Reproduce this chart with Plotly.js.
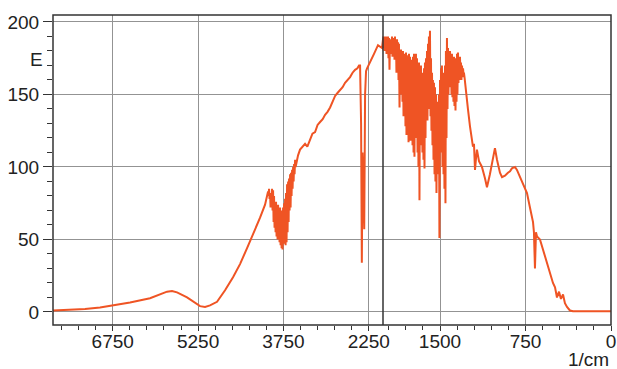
<!DOCTYPE html>
<html><head><meta charset="utf-8">
<script src="https://cdn.plot.ly/plotly-3.0.1.min.js"></script>
<style>body{margin:0;background:#fff}#chart{width:617px;height:369px}</style>
</head><body><div id="chart"></div>
<script>
// Wavenumber (1/cm) and single-beam energy E
const wavenumber = [7800,7501,7237,6974,6746,6446,6095,5919,5796,5708,5620,5444,5304,5216,5128,5040,4917,4776,4636,4513,4389,4266,4161,4073,
  4020,4011,4003,3994,3985,3976,3967,3958,3950,3941,3932,3923,3915,3906,3897,3888,3880,3871,3862,3853,3844,3835,3827,3818,3809,3800,3791,3782,3774,3765,3756,3747,3739,3730,3721,3712,3704,3695,3686,3677,3668,3659,3651,3642,3633,3624,3616,3607,3598,3589,3580,3571,3563,3554,3545,3536,
  3493,3458,3415,3370,3330,3282,3240,3194,3150,3106,3060,3018,2975,2930,2890,2842,2800,2754,2710,2667,2620,2579,2535,2491,2450,2421,2403,2385,2372,2360,2345,2330,2315,2298,2280,2227,2158,2088,2018,
  2000,1996,1991,1987,1982,1978,1974,1969,1965,1960,1956,1952,1947,1943,1939,1934,1930,1925,1921,1917,1912,1908,1903,1899,1895,1890,1886,1882,1877,1873,1868,1864,1860,1855,1851,1846,1842,1838,1833,1829,1825,1820,1816,1811,1807,1803,1798,1794,1790,1785,1781,1776,1772,1768,1763,1759,1754,1750,1746,1741,1737,1732,1728,1724,1719,1715,1711,1706,1702,1697,1693,1689,1684,1680,1676,1671,1667,1662,1658,1654,1649,1645,1640,1636,1632,1627,1623,1618,1614,1610,1605,1601,1597,1592,1588,1583,1579,1575,1570,1566,1562,1557,1553,1548,1544,1540,1535,1531,1526,1522,1518,1513,1509,1505,1500,1496,1491,1487,1483,1478,1474,1469,1465,1461,1456,1452,1448,1443,1439,1434,1430,1426,1421,1417,1412,1408,1404,1399,1395,1391,1386,1382,1377,1373,1369,1364,1360,1355,1351,1347,1342,1338,1334,1329,1325,1320,1316,1312,1307,1303,1298,1294,1290,1285,
  1272,1255,1237,1219,1211,1202,1193,1184,1176,1158,1132,1105,1088,1062,1035,1018,1000,974,956,930,904,886,869,842,825,798,772,737,711,684,676,667,658,649,623,597,570,535,509,491,474,456,439,421,404,386,360,333,272,96,0];
const energy = [1,1.3,2,3,4.5,6.5,9.5,12,14,14.5,13.5,10,6,4,3.5,4.5,7,15,24,33,44,55,65,74,
  83,80,85,78,82,72,80,75,85,70,84,62,80,58,75,55,76,52,72,50,74,55,70,48,72,46,70,44,68,43,72,47,75,50,78,46,82,48,88,55,90,62,92,70,95,72,96,80,98,85,100,90,102,95,105,100,
  108,112,114,116,114,119,123,124,129,131,133,136,138,141,145,149,151,153,155,158,160,162,165,167,168,170,170,130,34,110,90,57,150,166,168,172,178,184,182,
  188,182,190,180,189,183,190,178,188,181,190,175,189,167,187,178,188,182,190,176,189,180,188,174,190,178,187,165,188,175,186,160,185,141,180,150,181,160,178,145,180,135,178,140,176,128,179,122,177,130,175,117,178,120,176,118,174,125,172,115,176,110,178,107,174,130,178,120,175,110,170,100,172,77,168,120,170,115,165,110,160,105,168,99,172,120,175,140,180,132,185,140,190,150,194,135,175,125,165,115,160,105,158,95,155,90,150,82,145,100,140,95,150,51,160,110,168,120,170,100,165,95,160,85,170,75,180,120,189,140,182,150,178,160,180,155,176,150,178,148,174,145,176,142,172,139,175,145,178,150,179,158,175,160,176,165,172,160,170,162,168,164,165,162,
  150,140,128,118,114,116,98,106,112,104,100,92,86,95,108,113,105,96,93,94,96,97,99,100,98,93,88,82,72,62,55,30,55,52,50,43,36,27,20,17,10,14,9,12,6,3.5,1,0.5,0.5,0.5,0.5];

const xTicksHigh = [6750, 5250, 3750, 2250];
const xTicksLow = [1500, 750, 0];
const yTicks = [0, 50, 100, 150, 200];
const xRangeHigh = [7800, 2000];
const xRangeLow = [2000, 0];
const yRange = [-9, 204.8];

const split = 330 / 558;
const lineColor = '#ef5424';
const gridColor = '#939393';
const axisColor = '#333333';

const traces = [
  {x: wavenumber, y: energy, xaxis: 'x', yaxis: 'y', type: 'scatter', mode: 'lines',
   line: {color: lineColor, width: 2}, hoverinfo: 'skip'},
  {x: wavenumber, y: energy, xaxis: 'x2', yaxis: 'y', type: 'scatter', mode: 'lines',
   line: {color: lineColor, width: 2}, hoverinfo: 'skip'}
];

const xCommon = {
  ticks: 'outside', ticklen: 5, tickcolor: axisColor, tickwidth: 1, ticklabelstandoff: -6,
  showgrid: true, gridcolor: gridColor, gridwidth: 1, zeroline: false, showline: false,
  anchor: 'y', fixedrange: true
};

const layout = {
  width: 617, height: 369,
  margin: {l: 53, r: 6, t: 15, b: 44},
  paper_bgcolor: '#ffffff', plot_bgcolor: '#ffffff',
  showlegend: false,
  font: {family: 'Liberation Sans, Arial, sans-serif', size: 19, color: '#222222'},
  xaxis: Object.assign({}, xCommon, {
    domain: [0, split], range: xRangeHigh, tickmode: 'array', tickvals: xTicksHigh,
    ticktext: xTicksHigh.map(String),
    minor: {ticks: 'outside', ticklen: 4, tick0: 6750, dtick: 300, tickcolor: axisColor, showgrid: false}
  }),
  xaxis2: Object.assign({}, xCommon, {
    domain: [split, 1], range: xRangeLow, tickmode: 'array', tickvals: xTicksLow,
    ticktext: xTicksLow.map(String),
    minor: {ticks: 'outside', ticklen: 4, tick0: 0, dtick: 150, tickcolor: axisColor, showgrid: false}
  }),
  yaxis: {
    range: yRange, tickmode: 'array', tickvals: yTicks, ticks: 'outside', ticklen: 9,
    tickcolor: axisColor, showgrid: true, gridcolor: gridColor, gridwidth: 1,
    zeroline: false, showline: false, anchor: 'x', fixedrange: true,
    minor: {ticks: 'outside', ticklen: 5, tick0: 0, dtick: 10, tickcolor: axisColor, showgrid: false}
  },
  shapes: [
    {type: 'rect', xref: 'paper', yref: 'paper', x0: 0, x1: 1, y0: 0, y1: 1,
     line: {color: axisColor, width: 1.5}, fillcolor: 'rgba(0,0,0,0)', layer: 'above'},
    {type: 'line', xref: 'paper', yref: 'paper', x0: split, x1: split, y0: 0, y1: 1,
     line: {color: axisColor, width: 1.5}, layer: 'above'}
  ],
  annotations: [
    {text: 'E', xref: 'paper', yref: 'y', x: -17 / 558, y: 174, xanchor: 'center', yanchor: 'middle',
     showarrow: false, font: {size: 19, color: '#222222'}},
    {text: '1/cm', xref: 'paper', yref: 'paper', x: 535 / 558, y: -35 / 310, xanchor: 'center', yanchor: 'middle',
     showarrow: false, font: {size: 19, color: '#222222'}}
  ]
};

Plotly.newPlot('chart', traces, layout, {displayModeBar: false, staticPlot: true});
</script>
</body></html>
